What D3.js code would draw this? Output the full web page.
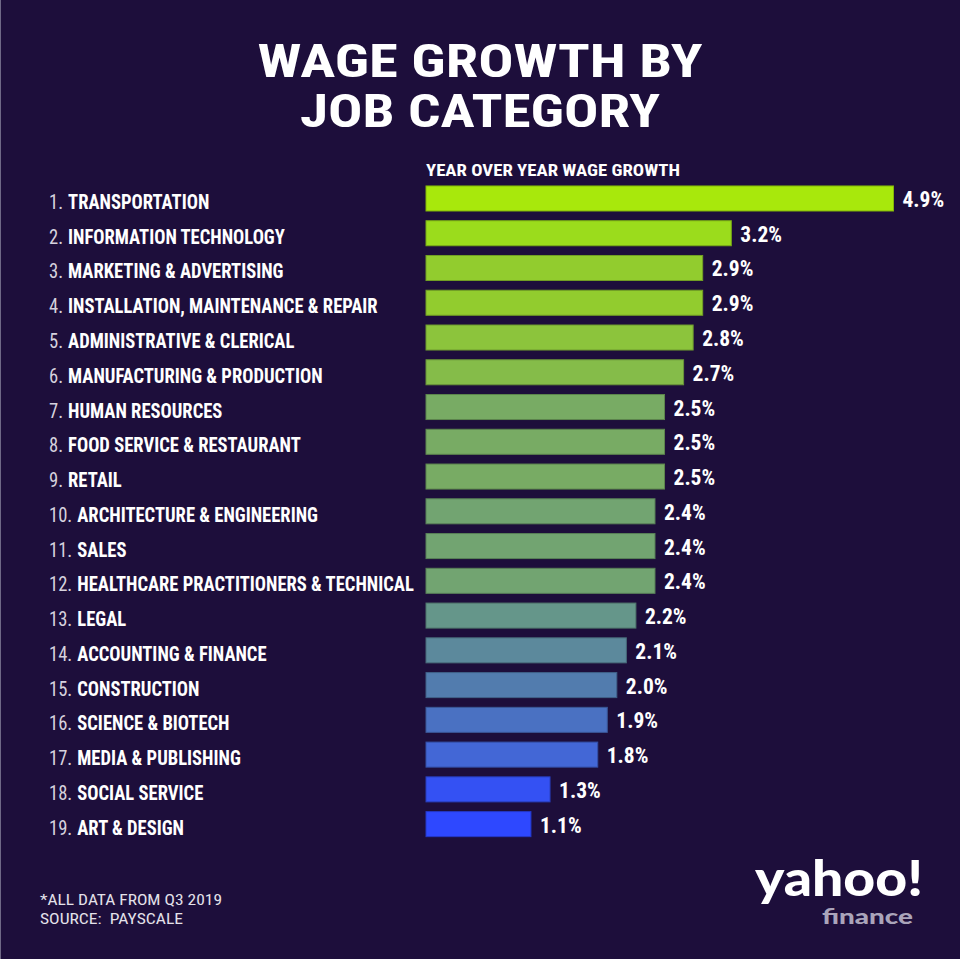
<!DOCTYPE html>
<html>
	<head>
		<title>Wage growth by job category</title>
		<script src="https://d3js.org/d3.v7.min.js" charset="utf-8"></script>
		<style>
			body{
				margin: 0;
				background: #1d0e3b;
			}
			text{
				font-family: "Liberation Sans Narrow", "Arial Narrow", "Roboto Condensed", sans-serif;
				font-stretch: condensed;
				white-space: pre;
			}
		</style>
	</head>
	<body>
		<script>
			// job categories, in ranked order
			var categories = [
				"TRANSPORTATION",
				"INFORMATION TECHNOLOGY",
				"MARKETING & ADVERTISING",
				"INSTALLATION, MAINTENANCE & REPAIR",
				"ADMINISTRATIVE & CLERICAL",
				"MANUFACTURING & PRODUCTION",
				"HUMAN RESOURCES",
				"FOOD SERVICE & RESTAURANT",
				"RETAIL",
				"ARCHITECTURE & ENGINEERING",
				"SALES",
				"HEALTHCARE PRACTITIONERS & TECHNICAL",
				"LEGAL",
				"ACCOUNTING & FINANCE",
				"CONSTRUCTION",
				"SCIENCE & BIOTECH",
				"MEDIA & PUBLISHING",
				"SOCIAL SERVICE",
				"ART & DESIGN"
			];
			// year over year wage growth, %
			var growth = [4.9, 3.2, 2.9, 2.9, 2.8, 2.7, 2.5, 2.5, 2.5, 2.4, 2.4, 2.4, 2.2, 2.1, 2.0, 1.9, 1.8, 1.3, 1.1];

			var titleLines = ["WAGE GROWTH BY", "JOB CATEGORY"];
			var subtitle = "YEAR OVER YEAR WAGE GROWTH";
			var notes = ["*ALL DATA FROM Q3 2019", "SOURCE:  PAYSCALE"];

			var width = 960;
			var height = 959;

			var svg = d3.select("body")
						.append("svg")
						.attr("width", width)
						.attr("height", height);

			svg.append("rect")
			   .attr("width", width)
			   .attr("height", height)
			   .attr("fill", "#1d0e3b");
			// thin edge on the left
			svg.append("rect")
			   .attr("width", 1)
			   .attr("height", height)
			   .attr("fill", "#6f6886");

			var x = d3.scaleLinear().domain([0, 4.9]).range([426, 893.5]);

			var y = d3.scaleBand()
					  .domain(d3.range(categories.length))
					  .range([181.1, 841.5])
					  .paddingInner(0.28)
					  .paddingOuter(0.14);

			// colour follows the value: blue for low, lime for high
			var colour = d3.scaleLinear()
						   .domain([1.1, 1.8, 2.0, 2.2, 2.5, 2.9, 3.2, 4.9])
						   .range(["#2e48ff", "#4367d6", "#527cae", "#65968a", "#78ab64", "#92cc2e", "#9bdc1c", "#a8e80c"]);

			// title
			svg.selectAll("text.title")
			   .data(titleLines)
			   .enter()
			   .append("text")
			   .attr("class", "title")
			   .attr("x", 480)
			   .attr("y", function(d, i){ return 77 + i * 50; })
			   .attr("text-anchor", "middle")
			   .attr("fill", "#ffffff")
			   .attr("font-size", 47)
			   .attr("font-weight", "bold")
			   .attr("textLength", function(d, i){ return i == 0 ? 445 : 360; })
			   .attr("lengthAdjust", "spacingAndGlyphs")
			   .text(function(d){ return d; });

			svg.append("text")
			   .attr("x", 426)
			   .attr("y", 176)
			   .attr("fill", "#ffffff")
			   .attr("font-size", 17)
			   .attr("font-weight", "bold")
			   .attr("textLength", 254)
			   .attr("lengthAdjust", "spacingAndGlyphs")
			   .text(subtitle);

			var rows = svg.append("g");

			rows.selectAll("rect")
				.data(growth)
				.enter()
				.append("rect")
				.attr("x", x(0))
				.attr("y", function(d, i){ return y(i); })
				.attr("width", function(d){ return x(d) - x(0); })
				.attr("height", y.bandwidth())
				.attr("fill", function(d){ return colour(d); })
				.attr("stroke", function(d){ return d3.color(colour(d)).darker(0.7); })
				.attr("stroke-width", 1);

			// category labels: rank number plus name
			var labels = rows.selectAll("text.label")
				.data(categories)
				.enter()
				.append("text")
				.attr("class", "label")
				.attr("transform", function(d, i){
					return "translate(49," + (y(i) + y.bandwidth() / 2 + 10.5) + ") scale(1,1.08)";
				})
				.attr("font-size", 18.6);

			labels.append("tspan")
				  .attr("fill", "#d6d2de")
				  .text(function(d, i){ return (i + 1) + "."; });

			labels.append("tspan")
				  .attr("dx", 5)
				  .attr("fill", "#ffffff")
				  .attr("font-weight", "bold")
				  .text(function(d){ return d; });

			// value labels
			rows.selectAll("text.value")
				.data(growth)
				.enter()
				.append("text")
				.attr("class", "value")
				.attr("transform", function(d, i){
					return "translate(" + (x(d) + 9) + "," + (y(i) + y.bandwidth() / 2 + 8.5) + ") scale(1,1.05)";
				})
				.attr("fill", "#ffffff")
				.attr("font-size", 21.5)
				.attr("font-weight", "bold")
				.text(function(d){ return d.toFixed(1) + "%"; });

			// footnotes
			svg.selectAll("text.note")
			   .data(notes)
			   .enter()
			   .append("text")
			   .attr("class", "note")
			   .attr("x", 40)
			   .attr("y", function(d, i){ return 905 + i * 19; })
			   .attr("fill", "#e4e1ea")
			   .attr("font-size", 15)
			   .attr("textLength", function(d, i){ return i == 0 ? 182 : 143; })
			   .attr("lengthAdjust", "spacingAndGlyphs")
			   .text(function(d){ return d; });

			// logo
			svg.append("text")
			   .attr("x", 755)
			   .attr("y", 896)
			   .attr("fill", "#ffffff")
			   .attr("font-size", 50)
			   .attr("font-weight", 900)
			   .attr("textLength", 168)
			   .attr("lengthAdjust", "spacingAndGlyphs")
			   .style("font-family", "Lato, Roboto, sans-serif")
			   .style("font-stretch", "normal")
			   .text("yahoo!");

			svg.append("text")
			   .attr("x", 822)
			   .attr("y", 924)
			   .attr("fill", "#aaa4ba")
			   .attr("font-size", 21)
			   .attr("font-weight", 900)
			   .attr("textLength", 91)
			   .attr("lengthAdjust", "spacingAndGlyphs")
			   .style("font-family", "Lato, Roboto, sans-serif")
			   .style("font-stretch", "normal")
			   .text("finance");
		</script>
	</body>
</html>
